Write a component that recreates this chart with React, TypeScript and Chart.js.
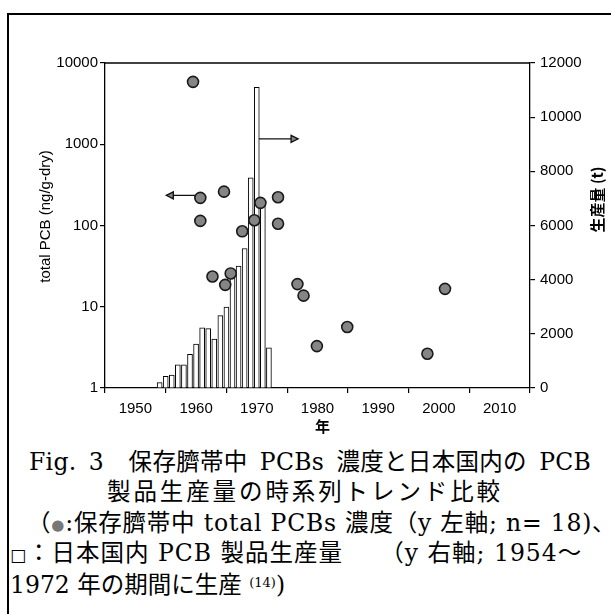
import React, { useEffect, useRef } from "react";
import { Chart, registerables } from "chart.js";

Chart.register(...registerables);

// ---- Data ----
const PROD_YEARS = [1954, 1955, 1956, 1957, 1958, 1959, 1960, 1961, 1962, 1963, 1964, 1965, 1966, 1967, 1968, 1969, 1970, 1971, 1972];
const PROD_TONS = [200, 430, 480, 860, 860, 1240, 1625, 2220, 2190, 1810, 2670, 2990, 4370, 4500, 5150, 7760, 11100, 6830, 1480];

const CORD_YEARS = [1959.5, 1960.7, 1960.7, 1962.7, 1964.6, 1964.8, 1965.7, 1967.6, 1969.6, 1970.6, 1973.5, 1973.5, 1976.7, 1977.7, 1979.9, 1984.9, 1998.1, 2001.0];
const CORD_PCB = [5860, 219, 114, 23.6, 261, 18.6, 25.7, 84.8, 116, 190, 223, 105, 19.0, 13.7, 3.28, 5.63, 2.64, 16.6];

const X_TICKS = [1950, 1960, 1970, 1980, 1990, 2000, 2010];
const LEFT_TICKS = [1, 10, 100, 1000, 10000];
const RIGHT_TICKS = [0, 2000, 4000, 6000, 8000, 10000, 12000];

const LEFT_TITLE = "total PCB (ng/g-dry)";
const RIGHT_TITLE = "生産量 (t)";
const X_TITLE = "年";

// arrows (data units)
const LEFT_ARROW = { fromYear: 1961.6, toYear: 1955.1, value: 235 };
const RIGHT_ARROW = { fromYear: 1970.3, toYear: 1976.8, value: 9200 };

const TICK_FONT = { family: "'Liberation Sans', Arial, sans-serif", size: 15 };

function setTicks(values: number[]) {
  return (scale: any) => {
    scale.ticks = values.map((v) => ({ value: v }));
  };
}

const overlayPlugin = {
  id: "overlay",
  beforeDatasetsDraw(chart: any) {
    const { ctx, scales } = chart;
    const drawArrow = (x1: number, x2: number, y: number) => {
      ctx.save();
      ctx.strokeStyle = "#111";
      ctx.fillStyle = "#888";
      ctx.lineWidth = 1.3;
      ctx.beginPath();
      ctx.moveTo(x1, y);
      ctx.lineTo(x2, y);
      ctx.stroke();
      const dir = x2 > x1 ? 1 : -1;
      ctx.beginPath();
      ctx.moveTo(x2, y);
      ctx.lineTo(x2 - dir * 7, y - 3.5);
      ctx.lineTo(x2 - dir * 7, y + 3.5);
      ctx.closePath();
      ctx.fill();
      ctx.stroke();
      ctx.restore();
    };
    drawArrow(
      scales.x.getPixelForValue(LEFT_ARROW.fromYear),
      scales.x.getPixelForValue(LEFT_ARROW.toYear),
      scales.y.getPixelForValue(LEFT_ARROW.value)
    );
    drawArrow(
      scales.x.getPixelForValue(RIGHT_ARROW.fromYear),
      scales.x.getPixelForValue(RIGHT_ARROW.toYear),
      scales.y2.getPixelForValue(RIGHT_ARROW.value)
    );
  },
  afterDraw(chart: any) {
    const { ctx, chartArea } = chart;
    ctx.save();
    // top border of plot box
    ctx.strokeStyle = "#000";
    ctx.lineWidth = 1.3;
    ctx.beginPath();
    ctx.moveTo(chartArea.left, chartArea.top);
    ctx.lineTo(chartArea.right, chartArea.top);
    ctx.stroke();

    ctx.fillStyle = "#000";
    ctx.textAlign = "center";
    ctx.textBaseline = "middle";
    const midY = (chartArea.top + chartArea.bottom) / 2;
    // left title
    ctx.save();
    ctx.translate(chartArea.left - 59, midY - 9);
    ctx.rotate(-Math.PI / 2);
    ctx.font = "15px 'Liberation Sans', Arial, sans-serif";
    ctx.fillText(LEFT_TITLE, 0, 0);
    ctx.restore();
    // right title (reads bottom to top)
    ctx.save();
    ctx.translate(chartArea.right + 67, midY - 26);
    ctx.rotate(-Math.PI / 2);
    ctx.font = "bold 15px 'Noto Sans CJK JP', sans-serif";
    ctx.fillText(RIGHT_TITLE, 0, 0);
    ctx.restore();
    // x title
    ctx.font = "bold 15px 'Noto Sans CJK JP', sans-serif";
    ctx.fillText(X_TITLE, (chartArea.left + chartArea.right) / 2 + 5, chartArea.bottom + 38);
    ctx.restore();
  },
};

function ChartCanvas() {
  const ref = useRef<HTMLCanvasElement | null>(null);
  useEffect(() => {
    if (!ref.current) return;
    const chart = new Chart(ref.current, {
      type: "scatter",
      data: {
        datasets: [
          {
            type: "scatter",
            label: "total PCB",
            data: CORD_YEARS.map((x, i) => ({ x, y: CORD_PCB[i] })),
            xAxisID: "x",
            yAxisID: "y",
            pointRadius: 5.5,
            pointBackgroundColor: "#858585",
            pointBorderColor: "#1a1a1a",
            pointBorderWidth: 1.6,
            order: 1,
          } as any,
          {
            type: "bar",
            label: "production",
            data: PROD_YEARS.map((x, i) => ({ x, y: PROD_TONS[i] })),
            xAxisID: "x",
            yAxisID: "y2",
            backgroundColor: "#ffffff",
            borderColor: "#000",
            borderWidth: 1,
            barThickness: 5,
            order: 2,
          } as any,
        ],
      },
      options: {
        animation: false,
        responsive: false,
        devicePixelRatio: 1,
        layout: { padding: { top: 63, left: 0, right: 0, bottom: 0 } },
        plugins: { legend: { display: false }, tooltip: { enabled: false }, title: { display: false } },
        scales: {
          x: {
            type: "linear",
            position: "bottom",
            min: 1950,
            max: 2010,
            afterBuildTicks: setTicks(X_TICKS),
            afterFit: (s: any) => {
              s.height = 52;
            },
            ticks: { callback: (v: any) => String(v), font: TICK_FONT, color: "#000", padding: 7, maxRotation: 0, autoSkip: false },
            grid: { drawOnChartArea: false, tickLength: 5, color: "#000", lineWidth: 1.2 },
            border: { color: "#000", width: 1.3 },
          },
          y: {
            type: "logarithmic",
            position: "left",
            min: 1,
            max: 10000,
            afterBuildTicks: setTicks(LEFT_TICKS),
            afterFit: (s: any) => {
              s.width = 105;
            },
            ticks: { callback: (v: any) => String(v), font: TICK_FONT, color: "#000", padding: 2, autoSkip: false },
            grid: { drawOnChartArea: false, tickLength: 5, color: "#000", lineWidth: 1.2 },
            border: { color: "#000", width: 1.3 },
          },
          y2: {
            type: "linear",
            position: "right",
            min: 0,
            max: 12000,
            afterBuildTicks: setTicks(RIGHT_TICKS),
            afterFit: (s: any) => {
              s.width = 81;
            },
            ticks: { callback: (v: any) => String(v), font: TICK_FONT, color: "#000", padding: 5, autoSkip: false },
            grid: { drawOnChartArea: false, tickLength: 5, color: "#000", lineWidth: 1.2 },
            border: { color: "#000", width: 1.3 },
          },
        },
      } as any,
      plugins: [overlayPlugin],
    });
    return () => chart.destroy();
  }, []);
  return <canvas ref={ref} width={611} height={440} style={{ position: "absolute", left: 0, top: 0, display: "block" }} />;
}

const CAPTION_FONT = "'DejaVu Serif', 'Noto Sans CJK JP', serif";

function Line({ left, top, children, spacing = 0, wordSpacing = 0 }: any) {
  return (
    <div
      style={{
        position: "absolute",
        left,
        top,
        whiteSpace: "pre",
        fontFamily: CAPTION_FONT,
        fontSize: 23.5,
        lineHeight: "30px",
        letterSpacing: spacing,
        wordSpacing,
        color: "#000",
      }}
    >
      {children}
    </div>
  );
}

export default function App() {
  return (
    <div style={{ position: "absolute", left: 0, top: 0, width: 611, height: 614, background: "#fff", overflow: "hidden" }}>
      <div
        style={{
          position: "absolute",
          left: 7,
          top: 13,
          width: 620,
          height: 620,
          borderLeft: "2px solid #000",
          borderTop: "2px solid #000",
        }}
      />
      <ChartCanvas />
      <Line left={29} top={447} spacing={0.3} wordSpacing={4.5}>Fig. 3  保存臍帯中 PCBs 濃度と日本国内の PCB</Line>
      <Line left={107} top={477} spacing={2.9}>製品生産量の時系列トレンド比較</Line>
      <Line left={27} top={508} spacing={0.8}>
        （<span style={{ fontSize: 15, color: "#777", verticalAlign: "1px" }}>●</span>:保存臍帯中 total PCBs 濃度（y 左軸; n= 18)、
      </Line>
      <Line left={10} top={538} spacing={1.0}>
        <span style={{ fontSize: 17 }}>□</span>：日本国内 PCB 製品生産量　　（y 右軸; 1954～
      </Line>
      <Line left={10} top={568}>
        1972 年の期間に生産 <sup style={{ fontSize: 13, verticalAlign: "6px" }}>(14)</sup>)
      </Line>
    </div>
  );
}
